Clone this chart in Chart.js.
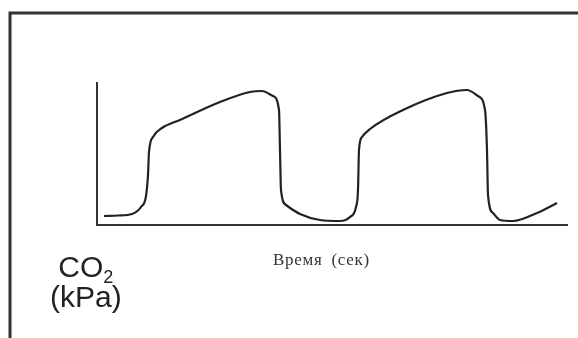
<!DOCTYPE html>
<html>
<head>
<meta charset="utf-8">
<script src="https://cdn.jsdelivr.net/npm/chart.js@4"></script>
<style>
  html, body { margin: 0; padding: 0; background: #fff; }
  #wrap { position: relative; width: 578px; height: 338px; }
  #capno { position: absolute; left: 0; top: 0; }
  .lbl { position: absolute; color: #222; white-space: nowrap; }
  #co2 { left: 50px; top: 252px; font: 30px "Liberation Sans", Arial, sans-serif; line-height: 30px; text-align: center; }
  #co2 sub { font-size: 18px; vertical-align: -6px; line-height: 0; }
  #timeLbl { left: 273px; top: 250px; font: 17px "Liberation Serif", "DejaVu Serif", serif; letter-spacing: 0.7px; word-spacing: 4px; color: #333; }
</style>
</head>
<body>
<div id="wrap">
  <canvas id="capno" width="578" height="338"></canvas>
  <div class="lbl" id="co2">CO<sub>2</sub><br>(kPa)</div>
  <div class="lbl" id="timeLbl">Время (сек)</div>
</div>
<script>
// capnogram trace: time (0.1 s units) and CO2 level (arbitrary units)
const timeVals = [0.7, 2.1, 3.5, 4.4, 4.9, 5.1, 5.2, 5.6, 6.5, 8.3, 12.3, 15.3, 16.5, 17.6, 18.2, 18.3, 18.4, 18.9, 20.3, 22.3,
                  24.3, 25.3, 25.9, 26.1, 26.2, 26.5, 27.3, 30.6, 35.0, 37.0, 38.1, 38.8, 39.0, 39.1, 39.6, 40.3, 41.6, 44.0, 46.0];
const co2Vals  = [0.9, 0.95, 1.1, 1.8, 2.9, 5.0, 7.3, 8.8, 9.7, 10.5, 12.3, 13.3, 13.4, 12.9, 11.5, 7.5, 3.5, 2.0, 1.1, 0.5,
                  0.4, 0.8, 1.8, 3.5, 7.5, 8.8, 9.6, 11.5, 13.2, 13.5, 12.9, 11.5, 7.5, 3.0, 1.2, 0.5, 0.4, 1.2, 2.2];

const points = timeVals.map((t, i) => ({ x: t, y: co2Vals[i] }));

// outer frame around the figure
const framePlugin = {
  id: 'frame',
  beforeDraw(chart) {
    const ctx = chart.ctx;
    ctx.save();
    ctx.strokeStyle = '#333';
    ctx.lineWidth = 3;
    ctx.beginPath();
    ctx.moveTo(10, 345);
    ctx.lineTo(10, 13);
    ctx.lineTo(590, 13);
    ctx.stroke();
    ctx.restore();
  }
};

new Chart(document.getElementById('capno'), {
  type: 'line',
  data: {
    datasets: [{
      data: points,
      borderColor: '#222',
      borderWidth: 2.2,
      pointRadius: 0,
      fill: false,
      cubicInterpolationMode: 'monotone'
    }]
  },
  options: {
    responsive: false,
    animation: false,
    layout: { padding: { left: 97, top: 83, right: 11, bottom: 113 } },
    plugins: { legend: { display: false }, tooltip: { enabled: false } },
    scales: {
      x: {
        type: 'linear', min: 0, max: 47,
        grid: { display: false, drawTicks: false },
        ticks: { display: false },
        border: { display: true, color: '#333', width: 2 }
      },
      y: {
        min: 0, max: 14.2,
        grid: { display: false, drawTicks: false },
        ticks: { display: false },
        border: { display: true, color: '#333', width: 2 }
      }
    }
  },
  plugins: [framePlugin]
});
</script>
</body>
</html>
